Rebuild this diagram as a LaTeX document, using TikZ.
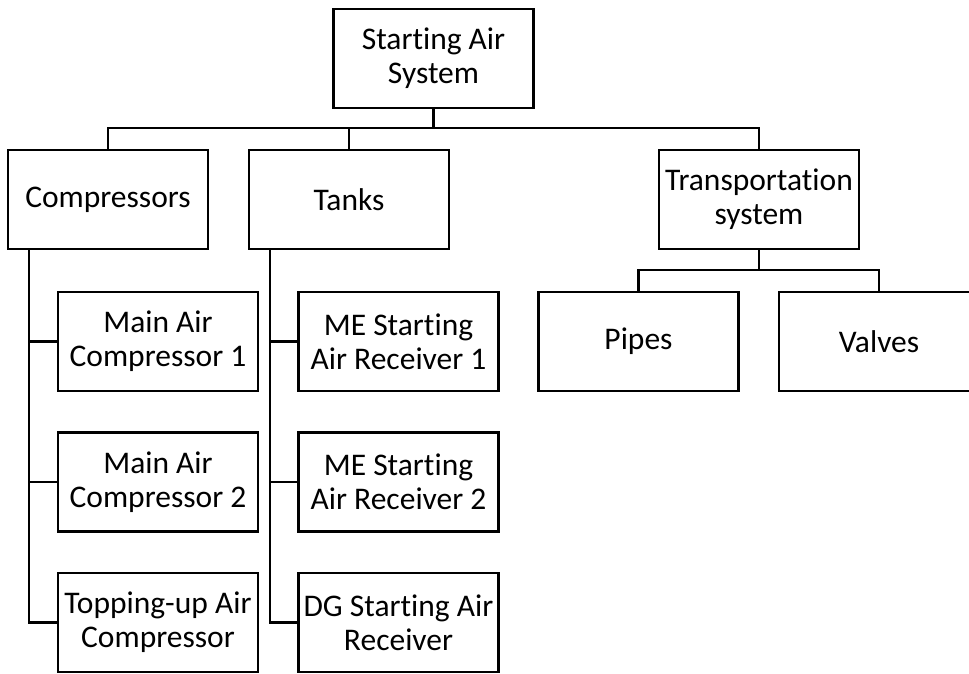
\documentclass[tikz,border=0pt]{standalone}
\usepackage{fontspec}
\setmainfont{Carlito}[Ligatures=CommonOff]
\usepackage{tikz}

\begin{document}
\begin{tikzpicture}[x=1pt,y=-1pt,line width=2.6pt,
    box/.style={draw,rectangle,align=center,inner sep=0pt,
        minimum width=200pt,minimum height=99pt,
        font=\fontsize{31.5}{34}\selectfont}]
    \useasboundingbox (0,0) rectangle (969,673);
    \node [box] (root) at (433.5,58.5) {Starting Air\\System};
    \node [box] (comp) at (108,199.5) {Compressors};
    \node [box] (tanks) at (349,199.5) {Tanks};
    \node [box] (trans) at (759,199.5) {Transportation\\system};
    \node [box] (mac1) at (158,341.5) {Main Air\\Compressor 1};
    \node [box] (mac2) at (158,482) {Main Air\\Compressor 2};
    \node [box] (topup) at (158,622.5) {Topping-up Air\\Compressor};
    \node [box] (rec1) at (398.5,341.5) {ME Starting\\Air Receiver 1};
    \node [box] (rec2) at (398.5,482) {ME Starting\\Air Receiver 2};
    \node [box] (dgrec) at (398.5,622.5) {DG Starting Air\\Receiver};
    \node [box] (pipes) at (638.5,341.5) {Pipes};
    \node [box] (valves) at (879,341.5) {Valves};
    % top level
    \coordinate (rbus) at (433.5,128);
    \draw (root.south)--(rbus);
    \draw (rbus) -| (comp.north);
    \draw (rbus) -| (tanks.north);
    \draw (rbus) -| (trans.north);
    % compressors
    \coordinate (cbus) at (29,249);
    \draw (cbus) |- (mac1.west);
    \draw (cbus) |- (mac2.west);
    \draw (cbus) |- (topup.west);
    % tanks
    \coordinate (tbus) at (270,249);
    \draw (tbus) |- (rec1.west);
    \draw (tbus) |- (rec2.west);
    \draw (tbus) |- (dgrec.west);
    % transportation
    \coordinate (pbus) at (759,270);
    \draw (trans.south)--(pbus);
    \draw (pbus) -| (pipes.north);
    \draw (pbus) -| (valves.north);
\end{tikzpicture}
\end{document}
